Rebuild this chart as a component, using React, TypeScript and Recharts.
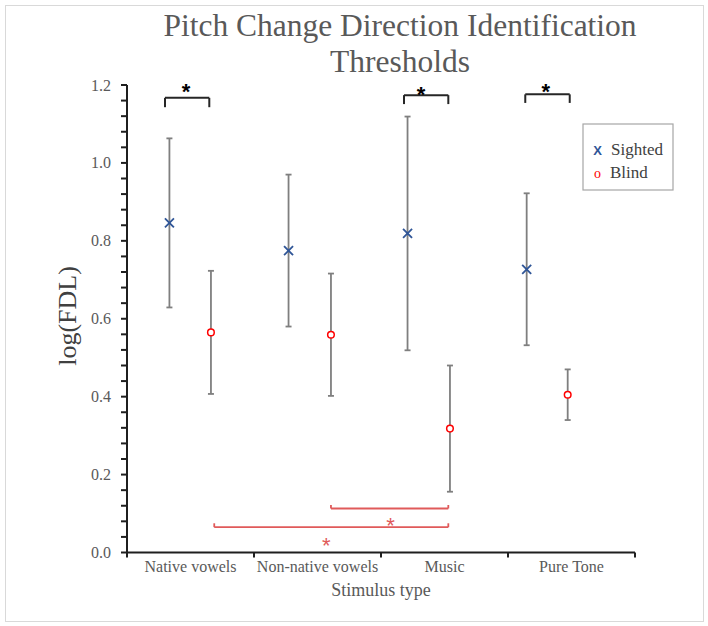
import React from 'react';
import { ScatterChart, Scatter, XAxis, YAxis, ErrorBar, ReferenceLine, ReferenceDot } from 'recharts';

// ---- data ----
const categories = ['Native vowels', 'Non-native vowels', 'Music', 'Pure Tone'];
const sightedX = [0.334, 1.272, 2.209, 3.147];
const sightedMean = [0.846, 0.775, 0.819, 0.727];
const sightedErr = [0.217, 0.195, 0.3, 0.195];
const blindX = [0.661, 1.606, 2.543, 3.47];
const blindMean = [0.565, 0.559, 0.318, 0.405];
const blindErr = [0.158, 0.157, 0.162, 0.065];

const xTicks = [0, 0.5, 1, 1.5, 2, 2.5, 3, 3.5, 4];
const yTicks = [
  0, 0.04, 0.08, 0.12, 0.16, 0.2, 0.24, 0.28, 0.32, 0.36, 0.4, 0.44, 0.48, 0.52, 0.56, 0.6,
  0.64, 0.68, 0.72, 0.76, 0.8, 0.84, 0.88, 0.92, 0.96, 1.0, 1.04, 1.08, 1.12, 1.16, 1.2,
];
const yLabelTicks = [0, 0.2, 0.4, 0.6, 0.8, 1.0, 1.2];

// significance brackets (sighted vs blind) – black
const blackBrackets = [
  { x1: 0.299, x2: 0.648, top: 1.167, leg: 1.143 },
  { x1: 2.181, x2: 2.53, top: 1.174, leg: 1.151 },
  { x1: 3.136, x2: 3.486, top: 1.176, leg: 1.154 },
];
const blackStars = [
  { x: 0.465, y: 1.196 },
  { x: 2.315, y: 1.189 },
  { x: 3.297, y: 1.197 },
];
// significance brackets (blind across stimuli) – red
const redBrackets = [
  { x1: 0.687, x2: 2.53, bottom: 0.065, leg: 0.075 },
  { x1: 1.606, x2: 2.53, bottom: 0.113, leg: 0.122 },
];
const redStars = [
  { x: 2.076, y: 0.081 },
  { x: 1.569, y: 0.032 },
];

const sightedData = sightedX.map((x, i) => ({ x, y: sightedMean[i], err: sightedErr[i] }));
const blindData = blindX.map((x, i) => ({ x, y: blindMean[i], err: blindErr[i] }));

const SERIF = '"Liberation Serif", "Times New Roman", serif';
const SANS = '"Liberation Sans", Arial, sans-serif';
const BLUE = '#2f5597';
const RED = '#ff0000';
const BRACKET_RED = '#e05a5a';
const AXIS = '#1f1f1f';

const XTick = (props: any) => {
  const { x, y, payload } = props;
  const v = payload.value;
  if (Math.abs(v - Math.round(v)) < 1e-6) {
    return <path d={`M${x},${y}L${x},${y + 5}`} stroke={AXIS} strokeWidth={2} fill="none" />;
  }
  const idx = Math.floor(v);
  return (
    <text x={x} y={y + 19} textAnchor="middle" fontFamily={SERIF} fontSize={16} fill="#595959">
      {categories[idx]}
    </text>
  );
};

const YTick = (props: any) => {
  const { x, y, payload } = props;
  const v = payload.value;
  const major = yLabelTicks.some((t) => Math.abs(t - v) < 1e-6);
  if (!major) return <g />;
  return (
    <text x={x} y={y + 5.5} textAnchor="end" fontFamily={SERIF} fontSize={16} fill="#595959">
      {Number(v).toFixed(1)}
    </text>
  );
};

const XShape = (p: any) => {
  const { cx, cy } = p;
  const s = 4.5;
  return (
    <g>
      <line x1={cx - s} y1={cy - s} x2={cx + s} y2={cy + s} stroke={BLUE} strokeWidth={1.8} />
      <line x1={cx - s} y1={cy + s} x2={cx + s} y2={cy - s} stroke={BLUE} strokeWidth={1.8} />
    </g>
  );
};

const OShape = (p: any) => {
  const { cx, cy } = p;
  return <circle cx={cx} cy={cy} r={3.3} fill="#fff" stroke={RED} strokeWidth={1.5} />;
};

const starShape = (color: string, bold: boolean) => (p: any) => (
  <text
    x={p.cx}
    y={p.cy + 12.5}
    textAnchor="middle"
    fontFamily={SANS}
    fontSize={22}
    fontWeight={bold ? 'bold' : 'normal'}
    fill={color}
  >
    *
  </text>
);

export default function App() {
  return (
    <div style={{ position: 'absolute', left: 0, top: 0, width: 708, height: 626, background: '#fff' }}>
      <div
        style={{
          position: 'absolute',
          left: 5,
          top: 5,
          width: 699,
          height: 617,
          border: '1px solid #d9d9d9',
          boxSizing: 'border-box',
        }}
      />
      <div style={{ position: 'absolute', left: 0, top: 0 }}>
        <ScatterChart width={708} height={626} margin={{ top: 85, right: 73, bottom: 0, left: 0 }}>
          <XAxis
            type="number"
            dataKey="x"
            domain={[0, 4]}
            ticks={xTicks}
            interval={0}
            tickLine={false}
            tickSize={0}
            tickMargin={0}
            tick={<XTick />}
            axisLine={{ stroke: AXIS, strokeWidth: 2 }}
            height={73.5}
            label={() => (
              <text x={381} y={596} textAnchor="middle" fontFamily={SERIF} fontSize={18} fill="#595959">
                Stimulus type
              </text>
            )}
          />
          <YAxis
            type="number"
            dataKey="y"
            domain={[0, 1.2]}
            ticks={yTicks}
            interval={0}
            tickLine={{ stroke: AXIS, strokeWidth: 2 }}
            tickSize={6}
            tickMargin={10}
            tick={<YTick />}
            axisLine={{ stroke: AXIS, strokeWidth: 2 }}
            width={127}
            label={() => (
              <text
                x={76}
                y={316}
                transform="rotate(-90 76 316)"
                textAnchor="middle"
                fontFamily={SERIF}
                fontSize={26}
                fill="#404040"
              >
                log(FDL)
              </text>
            )}
          />
          {blackBrackets.map((b, i) => (
            <ReferenceLine
              key={'bb' + i}
              segment={[{ x: b.x1, y: b.leg }, { x: b.x1, y: b.top }]}
              stroke="#262626"
              strokeWidth={2}
              ifOverflow="visible"
            />
          ))}
          {blackBrackets.map((b, i) => (
            <ReferenceLine
              key={'bt' + i}
              segment={[{ x: b.x1, y: b.top }, { x: b.x2, y: b.top }]}
              stroke="#262626"
              strokeWidth={2}
              ifOverflow="visible"
            />
          ))}
          {blackBrackets.map((b, i) => (
            <ReferenceLine
              key={'be' + i}
              segment={[{ x: b.x2, y: b.top }, { x: b.x2, y: b.leg }]}
              stroke="#262626"
              strokeWidth={2}
              ifOverflow="visible"
            />
          ))}
          {redBrackets.map((b, i) => (
            <ReferenceLine
              key={'rb' + i}
              segment={[{ x: b.x1, y: b.leg }, { x: b.x1, y: b.bottom }]}
              stroke={BRACKET_RED}
              strokeWidth={1.8}
              ifOverflow="visible"
            />
          ))}
          {redBrackets.map((b, i) => (
            <ReferenceLine
              key={'rt' + i}
              segment={[{ x: b.x1, y: b.bottom }, { x: b.x2, y: b.bottom }]}
              stroke={BRACKET_RED}
              strokeWidth={1.8}
              ifOverflow="visible"
            />
          ))}
          {redBrackets.map((b, i) => (
            <ReferenceLine
              key={'re' + i}
              segment={[{ x: b.x2, y: b.bottom }, { x: b.x2, y: b.leg }]}
              stroke={BRACKET_RED}
              strokeWidth={1.8}
              ifOverflow="visible"
            />
          ))}
          {blackStars.map((s, i) => (
            <ReferenceDot key={'bs' + i} x={s.x} y={s.y} r={0} ifOverflow="visible" shape={starShape('#000', true)} />
          ))}
          {redStars.map((s, i) => (
            <ReferenceDot key={'rs' + i} x={s.x} y={s.y} r={0} ifOverflow="visible" shape={starShape(BRACKET_RED, false)} />
          ))}
          <Scatter name="Sighted" data={sightedData} shape={<XShape />} isAnimationActive={false}>
            <ErrorBar dataKey="err" direction="y" width={3} stroke="#7f7f7f" strokeWidth={1.8} isAnimationActive={false} />
          </Scatter>
          <Scatter name="Blind" data={blindData} shape={<OShape />} isAnimationActive={false}>
            <ErrorBar dataKey="err" direction="y" width={3} stroke="#7f7f7f" strokeWidth={1.8} isAnimationActive={false} />
          </Scatter>
        </ScatterChart>
      </div>
      <svg style={{ position: 'absolute', left: 0, top: 0 }} width={708} height={80}>
        <text x={400} y={36} textAnchor="middle" fontFamily={SERIF} fontSize={31.5} fill="#595959">
          Pitch Change Direction Identification
        </text>
        <text x={400} y={72} textAnchor="middle" fontFamily={SERIF} fontSize={31.5} fill="#595959">
          Thresholds
        </text>
      </svg>
      <svg style={{ position: 'absolute', left: 582, top: 123 }} width={94} height={70}>
        <rect x={1} y={1} width={90} height={66} fill="#fff" stroke="#a6a6a6" strokeWidth={1.2} />
        <text x={15.5} y={32} textAnchor="middle" fontFamily={SANS} fontWeight="bold" fontSize={13} fill={BLUE}>
          X
        </text>
        <text x={29} y={32} fontFamily={SERIF} fontSize={17} fill="#404040">
          Sighted
        </text>
        <text x={15.5} y={55} textAnchor="middle" fontFamily={SERIF} fontSize={14} fill={RED}>
          o
        </text>
        <text x={28} y={55} fontFamily={SERIF} fontSize={17} fill="#404040">
          Blind
        </text>
      </svg>
    </div>
  );
}
